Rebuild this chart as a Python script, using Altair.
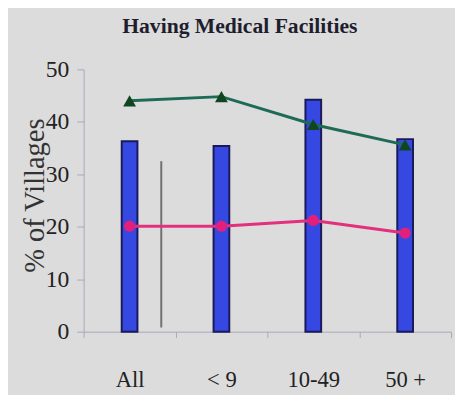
import altair as alt
import pandas as pd

categories = ["All", "< 9", "10-49", "50 +"]
bar_values = [36.3, 35.4, 44.2, 36.7]
green_values = [44.0, 44.8, 39.5, 35.6]
pink_values = [20.1, 20.1, 21.2, 18.8]
divider_range = [0.8, 32.5]

df = pd.DataFrame({
    "cat": categories,
    "bar": bar_values,
    "green": green_values,
    "pink": pink_values,
})
div_df = pd.DataFrame({"cat": ["All"], "y1": [divider_range[0]], "y2": [divider_range[1]]})

FONT = "Liberation Serif"

xscale = alt.Scale(domain=categories, paddingInner=0, paddingOuter=0)
yscale = alt.Scale(domain=[0, 50])

xaxis = alt.Axis(title=None, labelFont=FONT, labelFontSize=23, labelColor="#222222",
                 labelAngle=0, labelPadding=32, tickBand="extent", tickSize=6,
                 domainColor="#a8a8b8", tickColor="#a8a8b8", grid=False)
yaxis = alt.Axis(title="% of Villages", values=[0, 10, 20, 30, 40, 50],
                 labelFont=FONT, labelFontSize=24, labelColor="#222222",
                 labelPadding=8, tickSize=7, domainColor="#a8a8b8", tickColor="#a8a8b8",
                 grid=False, titleFont=FONT, titleFontSize=29, titleFontWeight="normal",
                 titleColor="#333333", titleAngle=270, titleBaseline="middle",
                 titleAlign="center", titleX=-50, titleY=128)

base = alt.Chart(df)

bars = base.mark_bar(size=16, color="#3548e2", stroke="#1a1a5a", strokeWidth=2).encode(
    x=alt.X("cat:N", scale=xscale, axis=xaxis, sort=categories),
    y=alt.Y("bar:Q", scale=yscale, axis=yaxis),
)

divider = alt.Chart(div_df).mark_rule(color="#707070", strokeWidth=2).encode(
    x=alt.X("cat:N", scale=xscale, sort=categories, bandPosition=0.845),
    y=alt.Y("y1:Q", scale=yscale),
    y2="y2:Q",
)

green_line = base.mark_line(color="#1e6b55", strokeWidth=3).encode(
    x=alt.X("cat:N", scale=xscale, sort=categories),
    y=alt.Y("green:Q", scale=yscale),
)
green_pts = base.mark_point(shape="triangle-up", size=170, filled=True, opacity=1,
                            color="#10451f").encode(
    x=alt.X("cat:N", scale=xscale, sort=categories),
    y=alt.Y("green:Q", scale=yscale),
)
pink_line = base.mark_line(color="#e2307c", strokeWidth=3).encode(
    x=alt.X("cat:N", scale=xscale, sort=categories),
    y=alt.Y("pink:Q", scale=yscale),
)
pink_pts = base.mark_point(shape="circle", size=130, filled=True, opacity=1,
                           color="#e0207a").encode(
    x=alt.X("cat:N", scale=xscale, sort=categories),
    y=alt.Y("pink:Q", scale=yscale),
)

chart = alt.layer(bars, divider, green_line, pink_line, green_pts, pink_pts).properties(
    width=374,
    height=267,
    autosize=alt.AutoSizeParams(type="none"),
    padding={"left": 77, "top": 59, "right": 4, "bottom": 61},
    background="#dcdcdc",
    title=alt.TitleParams("Having Medical Facilities", font=FONT, fontSize=22,
                          fontWeight="bold", color="#1e1e2e", anchor="middle", dx=-28,
                          offset=20),
).configure_view(stroke=None)

chart.save("out.html", embed_options={"renderer": "svg", "actions": False})
